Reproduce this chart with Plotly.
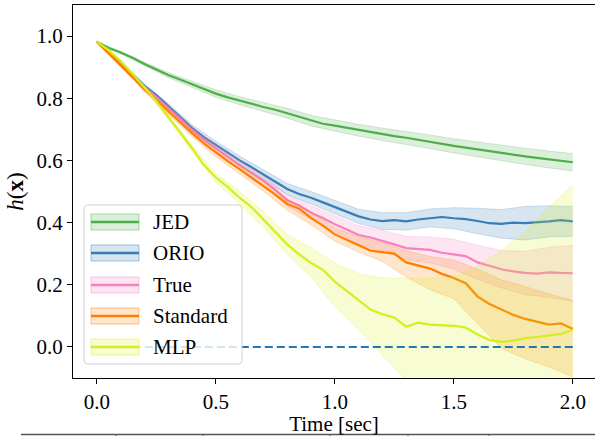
import plotly.graph_objects as go

# ---------------- data ----------------
t_mean = [0.00, 0.05, 0.10, 0.15, 0.20, 0.25, 0.30, 0.35, 0.40, 0.45,
          0.50, 0.55, 0.60, 0.65, 0.70, 0.75, 0.80, 0.85, 0.90, 0.95,
          1.00, 1.05, 1.10, 1.15, 1.20, 1.25, 1.30, 1.35, 1.40, 1.45,
          1.50, 1.55, 1.60, 1.65, 1.70, 1.75, 1.80, 1.85, 1.90, 1.95, 2.00]
t_band = [0.0, 0.1, 0.2, 0.3, 0.4, 0.5, 0.6, 0.7, 0.8, 0.9, 1.0,
          1.1, 1.2, 1.3, 1.4, 1.5, 1.6, 1.7, 1.8, 1.9, 2.0]

jed_mean = [0.982, 0.962, 0.947, 0.930, 0.910, 0.892, 0.875, 0.860, 0.845, 0.830,
            0.815, 0.803, 0.792, 0.782, 0.772, 0.763, 0.752, 0.740, 0.728, 0.718,
            0.712, 0.705, 0.697, 0.690, 0.684, 0.678, 0.673, 0.666, 0.660, 0.653,
            0.647, 0.641, 0.635, 0.630, 0.624, 0.618, 0.613, 0.608, 0.603, 0.600, 0.594]
jed_upper = [0.982, 0.951, 0.916, 0.883, 0.855, 0.827, 0.805, 0.787, 0.768, 0.745, 0.730,
             0.716, 0.704, 0.694, 0.682, 0.670, 0.659, 0.649, 0.639, 0.630, 0.622]
jed_lower = [0.982, 0.943, 0.904, 0.867, 0.835, 0.803, 0.779, 0.757, 0.736, 0.711, 0.694,
             0.678, 0.664, 0.652, 0.638, 0.624, 0.611, 0.599, 0.587, 0.576, 0.566]

orio_mean = [0.982, 0.950, 0.915, 0.878, 0.840, 0.810, 0.775, 0.740, 0.705, 0.675,
             0.650, 0.625, 0.600, 0.578, 0.555, 0.530, 0.508, 0.492, 0.480, 0.465,
             0.450, 0.435, 0.420, 0.410, 0.405, 0.408, 0.404, 0.410, 0.415, 0.418,
             0.414, 0.411, 0.405, 0.398, 0.396, 0.400, 0.398, 0.400, 0.404, 0.408, 0.404]
orio_upper = [0.982, 0.919, 0.846, 0.783, 0.715, 0.662, 0.614, 0.571, 0.526, 0.500, 0.471,
              0.443, 0.432, 0.432, 0.444, 0.448, 0.446, 0.442, 0.452, 0.454, 0.452]
orio_lower = [0.982, 0.911, 0.834, 0.767, 0.695, 0.638, 0.586, 0.539, 0.490, 0.460, 0.429,
              0.397, 0.378, 0.376, 0.386, 0.380, 0.364, 0.350, 0.344, 0.354, 0.356]

true_mean = [0.982, 0.948, 0.912, 0.874, 0.836, 0.804, 0.768, 0.732, 0.698, 0.666,
             0.638, 0.612, 0.585, 0.560, 0.535, 0.505, 0.472, 0.455, 0.432, 0.415,
             0.395, 0.378, 0.360, 0.352, 0.342, 0.330, 0.318, 0.315, 0.312, 0.303,
             0.298, 0.292, 0.272, 0.260, 0.250, 0.243, 0.238, 0.236, 0.240, 0.238, 0.237]
true_upper = [0.982, 0.916, 0.842, 0.776, 0.708, 0.650, 0.599, 0.551, 0.490, 0.454, 0.421,
              0.390, 0.375, 0.355, 0.354, 0.346, 0.327, 0.310, 0.308, 0.320, 0.327]
true_lower = [0.982, 0.908, 0.830, 0.760, 0.688, 0.626, 0.571, 0.519, 0.454, 0.410, 0.369,
              0.330, 0.309, 0.281, 0.270, 0.250, 0.217, 0.190, 0.168, 0.160, 0.147]

std_mean = [0.982, 0.945, 0.908, 0.868, 0.828, 0.795, 0.758, 0.722, 0.688, 0.655,
            0.625, 0.598, 0.572, 0.545, 0.518, 0.490, 0.460, 0.445, 0.415, 0.390,
            0.362, 0.345, 0.326, 0.310, 0.305, 0.300, 0.272, 0.262, 0.252, 0.235,
            0.222, 0.205, 0.162, 0.138, 0.120, 0.103, 0.090, 0.082, 0.072, 0.076, 0.058]
std_upper = [0.982, 0.912, 0.835, 0.767, 0.699, 0.638, 0.587, 0.535, 0.476, 0.435, 0.383,
             0.355, 0.335, 0.310, 0.291, 0.280, 0.250, 0.216, 0.194, 0.170, 0.150]
std_lower = [0.982, 0.904, 0.821, 0.749, 0.677, 0.612, 0.557, 0.501, 0.440, 0.393, 0.340,
             0.305, 0.275, 0.225, 0.184, 0.155, 0.075, -0.005, -0.038, -0.065, -0.096]

mlp_mean = [0.982, 0.955, 0.920, 0.880, 0.835, 0.790, 0.740, 0.690, 0.640, 0.585,
            0.545, 0.515, 0.480, 0.450, 0.410, 0.370, 0.330, 0.298, 0.270, 0.248,
            0.210, 0.180, 0.150, 0.120, 0.105, 0.095, 0.065, 0.078, 0.072, 0.070,
            0.068, 0.062, 0.040, 0.022, 0.016, 0.020, 0.028, 0.032, 0.036, 0.042, 0.055]
mlp_upper = [0.982, 0.924, 0.841, 0.748, 0.651, 0.560, 0.500, 0.435, 0.362, 0.320, 0.270,
             0.235, 0.222, 0.220, 0.220, 0.225, 0.260, 0.310, 0.370, 0.450, 0.520]
mlp_lower = [0.982, 0.916, 0.829, 0.732, 0.629, 0.530, 0.460, 0.385, 0.298, 0.225, 0.130,
             0.055, -0.025, -0.110, -0.180, -0.200, -0.200, -0.200, -0.200, -0.200, -0.200]

zero_t = [0.0, 2.0]
zero_v = [0.0, 0.0]

series_names = ["JED", "ORIO", "True", "Standard", "MLP"]
series_colors = ["#4daf4a", "#377eb8", "#f781bf", "#ff7f00", "#d5ef1c"]

x_ticks = [0.0, 0.5, 1.0, 1.5, 2.0]
x_tick_labels = ["0.0", "0.5", "1.0", "1.5", "2.0"]
y_ticks = [0.0, 0.2, 0.4, 0.6, 0.8, 1.0]
y_tick_labels = ["0.0", "0.2", "0.4", "0.6", "0.8", "1.0"]

# ---------------- figure ----------------
W, H = 595, 436
L, R, T, B = 73, 0, 5, 58
PW, PH = W - L - R, H - T - B


def rgba(hexc, a):
    h = hexc.lstrip('#')
    return "rgba(%d,%d,%d,%s)" % (int(h[0:2], 16), int(h[2:4], 16), int(h[4:6], 16), a)


def px(xp):
    return (xp - L) / PW


def py(yp):
    return (H - B - yp) / PH


means = [jed_mean, orio_mean, true_mean, std_mean, mlp_mean]
uppers = [jed_upper, orio_upper, true_upper, std_upper, mlp_upper]
lowers = [jed_lower, orio_lower, true_lower, std_lower, mlp_lower]

fig = go.Figure()
for name, color, m, lo, hi in zip(series_names, series_colors, means, lowers, uppers):
    fig.add_trace(go.Scatter(x=t_mean, y=m, mode="lines", name=name,
                             line=dict(color=color, width=2.2), showlegend=False))
    fig.add_trace(go.Scatter(x=t_band, y=lo, mode="lines", hoverinfo="skip",
                             line=dict(color=rgba(color, 0.22), width=1), showlegend=False))
    fig.add_trace(go.Scatter(x=t_band, y=hi, mode="lines", hoverinfo="skip", fill="tonexty",
                             fillcolor=rgba(color, 0.2),
                             line=dict(color=rgba(color, 0.22), width=1), showlegend=False))

fig.add_trace(go.Scatter(x=zero_t, y=zero_v, mode="lines", showlegend=False,
                         line=dict(color="#1f77b4", width=2, dash="8px,4px")))

FONT = "Liberation Serif"
tick_font = dict(family=FONT, size=21, color="black")

fig.update_layout(
    width=W, height=H,
    margin=dict(l=L, r=R, t=T, b=B, autoexpand=False),
    paper_bgcolor="white", plot_bgcolor="white",
    showlegend=False,
    font=dict(family=FONT, size=21, color="black"),
)
fig.update_xaxes(range=[-0.1, 2.0933], tickvals=x_ticks, ticktext=x_tick_labels,
                 tickfont=tick_font,
                 showline=True, linecolor="black", linewidth=1.3, mirror=True,
                 ticks="outside", ticklen=5, tickwidth=1.2, tickcolor="black",
                 showgrid=False, zeroline=False, automargin=False,
                 title=dict(text="Time [sec]", standoff=2,
                            font=dict(family=FONT, size=21, color="black")))
fig.update_yaxes(range=[-0.1, 1.1], tickvals=y_ticks, ticktext=y_tick_labels,
                 tickfont=tick_font,
                 showline=True, linecolor="black", linewidth=1.3, mirror=False,
                 ticks="outside", ticklen=5, tickwidth=1.2, tickcolor="black",
                 showgrid=False, zeroline=False, automargin=False,
                 title=dict(text="<i>h</i>(<b>x</b>)", standoff=6,
                            font=dict(family=FONT, size=23, color="black")))

# ---- legend drawn as shapes + text (matplotlib style) ----
shapes = []
annotations = []
bx0, bx1, by0, by1 = 84, 242, 205, 364
r = 4
x0p, x1p, y0p, y1p = px(bx0), px(bx1), py(by0), py(by1)
rx, ry = r / PW, r / PH
path = ("M %f,%f L %f,%f Q %f,%f %f,%f L %f,%f Q %f,%f %f,%f L %f,%f Q %f,%f %f,%f "
        "L %f,%f Q %f,%f %f,%f Z") % (
    x0p + rx, y0p, x1p - rx, y0p, x1p, y0p, x1p, y0p - ry,
    x1p, y1p + ry, x1p, y1p, x1p - rx, y1p,
    x0p + rx, y1p, x0p, y1p, x0p, y1p + ry,
    x0p, y0p - ry, x0p, y0p, x0p + rx, y0p)
shapes.append(dict(type="path", path=path, xref="paper", yref="paper", layer="above",
                   fillcolor="rgba(255,255,255,0.8)", line=dict(color="#d0d0d0", width=1)))
entry_y = [222, 253, 285, 316, 347]
for name, color, yc in zip(series_names, series_colors, entry_y):
    shapes.append(dict(type="rect", xref="paper", yref="paper", layer="above",
                       x0=px(91), x1=px(139), y0=py(yc + 8), y1=py(yc - 8),
                       fillcolor=rgba(color, 0.2), line=dict(color=rgba(color, 0.45), width=1)))
    shapes.append(dict(type="line", xref="paper", yref="paper", layer="above",
                       x0=px(91), x1=px(139), y0=py(yc), y1=py(yc),
                       line=dict(color=color, width=2.5)))
    annotations.append(dict(text=name, xref="paper", yref="paper", x=px(151), y=py(yc),
                            xanchor="left", yanchor="middle", showarrow=False,
                            font=dict(family=FONT, size=21, color="black")))

# ---- cropped frame edge visible at the bottom of the image ----
shapes.append(dict(type="line", xref="paper", yref="paper", layer="above",
                   x0=px(21), x1=px(595), y0=py(434.5), y1=py(434.5),
                   line=dict(color="#555555", width=1.5)))
for xt in [116, 203, 330, 408, 489]:
    shapes.append(dict(type="line", xref="paper", yref="paper", layer="above",
                       x0=px(xt), x1=px(xt), y0=py(434.5), y1=py(437),
                       line=dict(color="#555555", width=1)))

fig.update_layout(shapes=shapes, annotations=annotations)

fig.write_html("out.html", config={"displayModeBar": False},
               post_script="document.body.style.margin='0';")
